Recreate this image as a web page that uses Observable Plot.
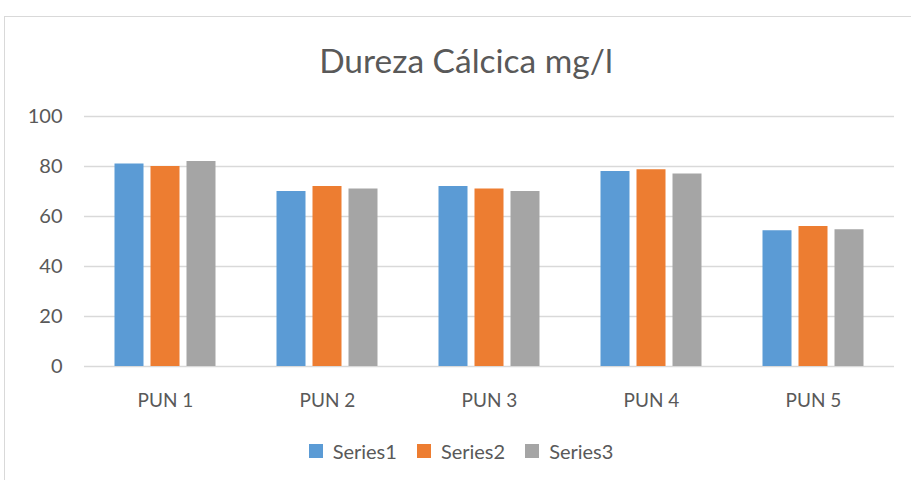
<!DOCTYPE html>
<html>
<head>
<meta charset="utf-8">
<script src="https://cdn.jsdelivr.net/npm/d3@7"></script>
<script src="https://cdn.jsdelivr.net/npm/@observablehq/plot@0.6"></script>
<style>
  html, body { margin: 0; padding: 0; background: #fff; width: 911px; height: 480px; overflow: hidden; }
  #frame { position: absolute; left: 4px; top: 16px; width: 930px; height: 480px; border: 1.5px solid #d9d9d9; box-sizing: border-box; }
  #title { position: absolute; left: 0; width: 932px; top: 40px; text-align: center; font-family: Lato, "Open Sans", sans-serif; font-size: 33.5px; color: #595959; }
  #chart { position: absolute; left: 0; top: 0; }
  #legend { position: absolute; left: 0; width: 942px; top: 434px; display: flex; justify-content: center; }
</style>
</head>
<body>
<div id="frame"></div>
<div id="title">Dureza Cálcica mg/l</div>
<div id="chart"></div>
<div id="legend"></div>
<script>
const categories = ["PUN 1", "PUN 2", "PUN 3", "PUN 4", "PUN 5"];
const seriesNames = ["Series1", "Series2", "Series3"];
const series1 = [81, 70, 72, 78, 54.3];
const series2 = [80, 72, 71, 78.7, 56];
const series3 = [82, 71, 70, 77, 54.7];
const yTicks = [0, 20, 40, 60, 80, 100];
const colors = ["#5b9bd5", "#ed7d31", "#a5a5a5"];

const allSeries = [series1, series2, series3];
const data = [];
seriesNames.forEach((s, i) => categories.forEach((c, j) => data.push({cat: c, series: s, value: allSeries[i][j]})));

const insets = [[30.5, 102.5], [66.5, 66.5], [102.5, 30.5]];

const chart = Plot.plot({
  width: 911,
  height: 420,
  marginTop: 116,
  marginBottom: 54,
  marginLeft: 84,
  marginRight: 17,
  style: {fontFamily: "Lato, 'Open Sans', sans-serif", color: "#595959", background: "transparent"},
  x: {domain: categories, padding: 0},
  y: {domain: [0, 100]},
  color: {domain: seriesNames, range: colors},
  marks: [
    Plot.gridY(yTicks, {stroke: "#d9d9d9", strokeOpacity: 1, strokeWidth: 1.5}),
    ...seriesNames.map((s, i) => Plot.barY(data.filter(d => d.series === s), {
      x: "cat", y: "value", fill: "series",
      insetLeft: insets[i][0], insetRight: insets[i][1]
    })),
    Plot.axisY(yTicks, {tickSize: 0, tickPadding: 22, fontSize: 20, fill: "#595959", label: null}),
    Plot.axisX({tickSize: 0, tickPadding: 27, fontSize: 19, fill: "#595959", label: null})
  ]
});
document.getElementById("chart").appendChild(chart);

const legend = Plot.legend({
  color: {domain: seriesNames, range: colors},
  legend: "swatches",
  swatchSize: 14,
  style: {fontFamily: "Lato, 'Open Sans', sans-serif", fontSize: "20px", color: "#595959"}
});
document.getElementById("legend").appendChild(legend);
</script>
</body>
</html>
